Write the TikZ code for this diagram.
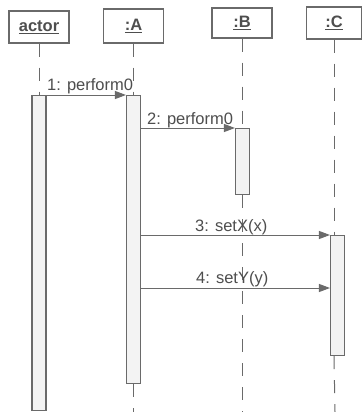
\documentclass[tikz,border=0pt]{standalone}
\usepackage{fontspec}
\setmainfont{Liberation Sans}
\usetikzlibrary{arrows.meta,calc}
\definecolor{linec}{HTML}{6A6A6A}
\definecolor{textc}{HTML}{4E4E4E}
\definecolor{barfill}{HTML}{F3F3F3}
\tikzset{
  objbox/.style={draw=linec, line width=1.1pt, fill=white, inner sep=0pt, text=textc,
    font=\fontsize{16.5}{18}\selectfont\bfseries},
  actbar/.style={draw=linec, line width=1.1pt, fill=barfill, inner sep=0pt,
    minimum width=14pt, anchor=north},
  life/.style={draw=linec, line width=1pt, dash pattern=on 13pt off 11pt},
  msg/.style={draw=linec, line width=1pt, -{Triangle[length=11pt,width=8pt]}},
  msglabel/.style={inner sep=0pt, anchor=base west, text=textc,
    font=\fontsize{16.5}{18}\selectfont}
}
\begin{document}
\begin{tikzpicture}[x=1pt,y=-1pt]
\useasboundingbox (0,0) rectangle (363,412);
\fill[white] (0,0) rectangle (363,412);
% objects
\node[objbox, minimum width=60pt, minimum height=32pt] (actor) at (39,27) {\underline{actor}};
\node[objbox, minimum width=60pt, minimum height=34pt] (A) at (133.5,26) {\underline{:A}};
\node[objbox, minimum width=60pt, minimum height=30pt] (B) at (242,23) {\underline{:B}};
\node[objbox, minimum width=55pt, minimum height=32pt] (C) at (334,23) {\underline{:C}};
% bottom ends of lifelines
\coordinate (Aend) at (133.5,412);
\coordinate (Bend) at (242,412);
\coordinate (Cend) at (335,412);
% activation bars
\node[actbar, minimum height=315pt] (actbar) at (39,95) {};
\node[actbar, minimum height=288pt] (Abar) at (133.5,95) {};
\node[actbar, minimum height=66pt] (Bbar) at (242.5,128) {};
\node[actbar, minimum height=120pt] (Cbar) at (337.5,235) {};
% lifelines
\draw[life] (actor.south) -- (actbar.north);
\draw[life] (A.south) -- (Abar.north);
\draw[life] (Abar.south) -- (Aend);
\draw[life] (B.south) -- (B.south |- Bbar.north);
\draw[life] (B.south |- Bbar.south) -- (Bend);
\draw[life] (C.south) -- (C.south |- Cbar.north);
\draw[life] (C.south |- Cbar.south) -- (Cend);
% messages
\coordinate (m4) at (0,288);
\draw[msg] (actbar.north east) -- (Abar.north west);
\draw[msg] (Abar.east |- Bbar.north) -- (Bbar.north west);
\draw[msg] (Abar.east |- Cbar.north) -- (Cbar.north west);
\draw[msg] (Abar.east |- m4) -- (Cbar.west |- m4);
% labels
\node[msglabel] (l1) at (47,90) {1: perform0};
\node[msglabel] (l2) at (147,124) {2: perform0};
\node[msglabel] (l3) at (195,231) {3: setX(x)};
\node[msglabel] (l4) at (196,283) {4: setY(y)};
\end{tikzpicture}
\end{document}
